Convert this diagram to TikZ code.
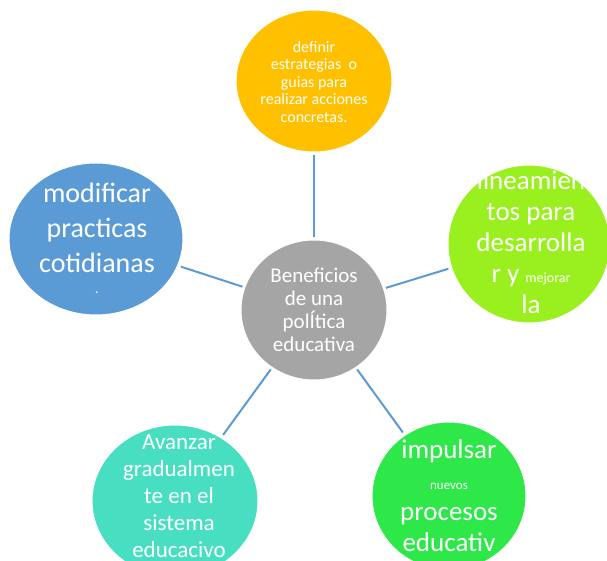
\documentclass[tikz,border=0pt]{standalone}
\usepackage{fontspec}
\setmainfont{Carlito}
\usetikzlibrary{shapes.geometric,positioning}

\definecolor{grisc}{HTML}{A5A5A5}
\definecolor{naranja}{HTML}{FFC000}
\definecolor{lima}{HTML}{9AF01E}
\definecolor{verde}{HTML}{2EE84A}
\definecolor{turq}{HTML}{48DEC2}
\definecolor{azul}{HTML}{5B9BD5}

\begin{document}
\begin{tikzpicture}[x=1pt,y=-1pt,
    burbuja/.style={ellipse, draw=white, line width=1pt, inner sep=0pt},
    texto/.style={text=white, align=center, inner sep=0pt},
    rayo/.style={draw=azul, line width=2pt, shorten <=2pt, shorten >=3pt}]
    \clip (0,0) rectangle (607,561);
    \useasboundingbox (0,0) rectangle (607,561);

    % burbujas
    \node[burbuja, fill=grisc, minimum width=146pt, minimum height=140pt] (benef) at (314,310) {};
    \node[burbuja, fill=naranja, minimum width=156pt, minimum height=142pt] (definir) at (314,81) {};
    \node[burbuja, fill=lima, minimum width=162pt, minimum height=158pt] (lineam) at (529,244) {};
    \node[burbuja, fill=verde, minimum width=154pt, minimum height=148pt] (impulsar) at (449,496) {};
    \node[burbuja, fill=turq, minimum width=166pt, minimum height=152pt] (avanzar) at (175,501) {};
    \node[burbuja, fill=azul, minimum width=174pt, minimum height=152pt] (modificar) at (96,239) {};

    % rayos
    \draw[rayo] (benef) -- (definir);
    \draw[rayo] (benef) -- (lineam);
    \draw[rayo] (benef) -- (impulsar);
    \draw[rayo] (benef) -- (avanzar);
    \draw[rayo] (benef) -- (modificar);

    % textos
    \node[texto, font=\fontsize{21}{23}\selectfont] (benef-t) at (314,310) {Beneficios\\de una\\polÍtica\\educativa};
    \node[texto, font=\fontsize{16}{17.5}\selectfont] (definir-t) at (314,82) {definir\\estrategias~ o\\guias para\\realizar acciones\\concretas.};
    \node[texto, font=\fontsize{27}{31}\selectfont] (lineam-t) at (531,242) {lineamien\\tos para\\desarrolla\\r y {\fontsize{14}{31}\selectfont mejorar}\\la};
    \node[texto, font=\fontsize{27}{31}\selectfont] (impulsar-t) at (449,496) {impulsar\\{\fontsize{13}{31}\selectfont nuevos}\\procesos\\educativ};
    \node[texto, font=\fontsize{23}{27}\selectfont] (avanzar-t) at (179,496) {Avanzar\\gradualmen\\te en el\\sistema\\educacivo};
    \node[texto, font=\fontsize{28}{35}\selectfont] (modificar-t) at (97,238) {modificar\\practicas\\cotidianas\\[-14pt]{\fontsize{14}{17}\selectfont .}};
\end{tikzpicture}
\end{document}
